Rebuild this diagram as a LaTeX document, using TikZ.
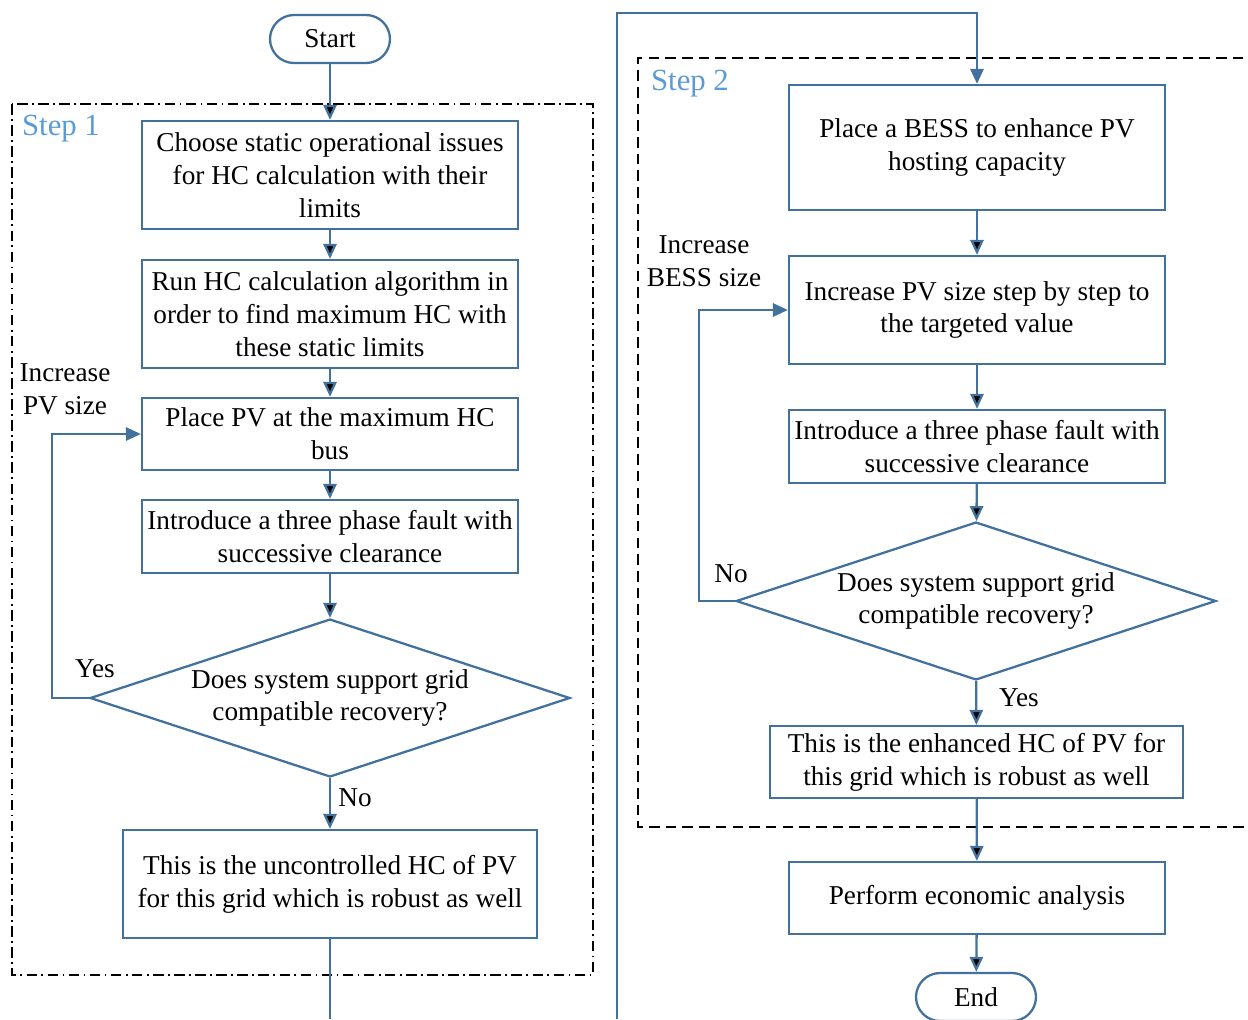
\documentclass[tikz,border=0pt]{standalone}
\usepackage{fontspec}
\setmainfont{Liberation Serif}
\usetikzlibrary{arrows.meta,positioning,shapes.geometric}
\definecolor{flowblue}{RGB}{65,113,156}
\definecolor{steplabel}{RGB}{91,155,213}

\tikzset{
  proc/.style={rectangle, draw=flowblue, line width=1.3pt, align=center, inner sep=2pt, minimum width=7.52cm},
  term/.style={rectangle, rounded corners=0.48cm, draw=flowblue, line width=1.3pt, minimum width=2.4cm, minimum height=0.96cm},
  decide/.style={diamond, draw=flowblue, line width=1.3pt, align=center, shape aspect=3, inner sep=0pt, minimum width=9.6cm, minimum height=3.16cm},
  flow/.style={draw=flowblue, line width=1.3pt},
  lbl/.style={align=center, inner sep=0pt},
  steptag/.style={text=steplabel, inner sep=0pt, font=\fontsize{17.5}{20}\selectfont},
}

\begin{document}
\begin{tikzpicture}[x=0.02cm, y=-0.02cm, >={Triangle[length=8.5pt,width=7.5pt]}, font=\fontsize{15.5}{18.6}\selectfont]
    \useasboundingbox (0,0) rectangle (1248,1019);

    % Step frames
    \draw [line width=0.7pt, dash pattern=on 6pt off 2.5pt on 1pt off 2.5pt] (12,104) rectangle (593,975);
    \draw [line width=0.9pt, dash pattern=on 6pt off 3.5pt] (1260,58) -- (638,58) -- (638,827) -- (1260,827);
    \node [steptag] (tag1) at (61,129) {Step 1};
    \node [steptag] (tag2) at (690,84) {Step 2};

    % Nodes, step 1
    \node [term] (start) at (330,39) {Start};
    \node [proc, minimum height=2.16cm] (b1) at (330,175) {Choose static operational issues\\for HC calculation with their\\limits};
    \node [proc, minimum height=2.16cm] (b2) at (330,314) {Run HC calculation algorithm in\\order to find maximum HC with\\these static limits};
    \node [proc, minimum height=1.44cm] (b3) at (330,434) {Place PV at the maximum HC\\bus};
    \node [proc, minimum height=1.46cm] (b4) at (330,536.5) {Introduce a three phase fault with\\successive clearance};
    \node [decide] (d1) at (330,698) {Does system support grid\\compatible recovery?};
    \node [proc, minimum width=8.28cm, minimum height=2.16cm] (b5) at (330,884) {This is the uncontrolled HC of PV\\for this grid which is robust as well};
    \coordinate (b5out) at (330,1019);

    % Nodes, step 2
    \node [proc, minimum height=2.5cm] (bA) at (977,147.5) {Place a BESS to enhance PV\\hosting capacity};
    \node [proc, minimum height=2.16cm] (bB) at (977,310) {Increase PV size step by step to\\the targeted value};
    \node [proc, minimum height=1.46cm] (bC) at (977,446.5) {Introduce a three phase fault with\\successive clearance};
    \node [decide] (d2) at (976,601) {Does system support grid\\compatible recovery?};
    \node [proc, minimum width=8.26cm, minimum height=1.44cm] (bD) at (976.5,762) {This is the enhanced HC of PV for\\this grid which is robust as well};
    \node [proc, minimum height=1.44cm] (bE) at (977,898) {Perform economic analysis};
    \node [term] (end) at (976,997) {End};
    \coordinate (loopin) at (617,1019);
    \coordinate (turn) at (617,13);

    % Labels
    \node [lbl] (incpv) at (65,389) {Increase\\PV size};
    \node [lbl] (yes1) at (95,669) {Yes};
    \node [lbl] (no1) at (355,798) {No};
    \node [lbl] (incbess) at (704,261) {Increase\\BESS size};
    \node [lbl] (no2) at (731,574) {No};
    \node [lbl] (yes2) at (1019,698) {Yes};

    % Paths
    \path [flow, ->] (start) edge (b1)
                     (b1) edge (b2)
                     (b2) edge (b3)
                     (b3) edge (b4)
                     (b4) edge (d1)
                     (d1) edge (b5);
    \draw [flow, ->] (d1.west) -- ++(-37,0) |- (b3.west);
    \draw [flow] (b5) -- (b5out);
    \draw [flow, ->] (loopin) -- (turn) -| (bA.north);
    \path [flow, ->] (bA) edge (bB)
                     (bB) edge (bC)
                     (bC) edge (d2)
                     (d2) edge (bD)
                     (bD) edge (bE)
                     (bE) edge (end);
    \draw [flow, ->] (d2.west) -- ++(-36,0) |- (bB.west);
\end{tikzpicture}
\end{document}
